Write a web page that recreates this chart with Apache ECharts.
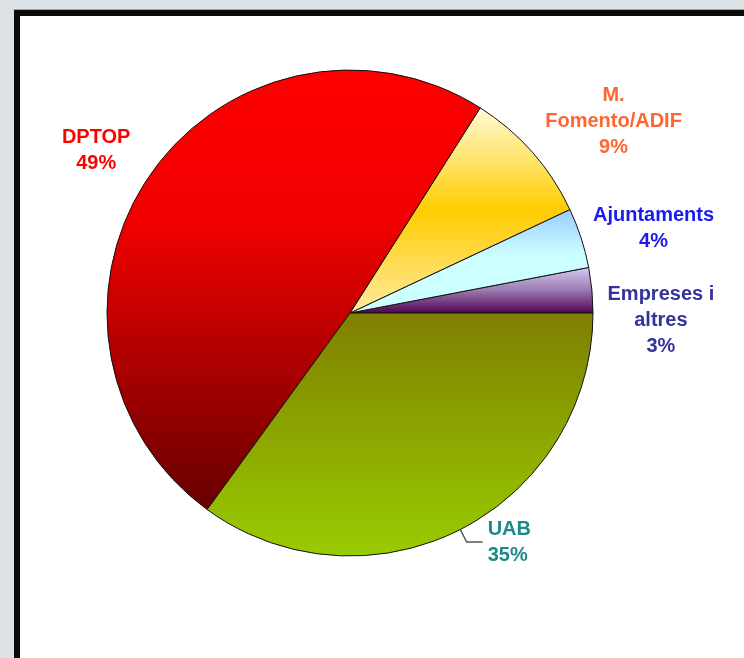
<!DOCTYPE html>
<html>
<head>
<meta charset="utf-8">
<script src="https://cdn.jsdelivr.net/npm/echarts@6/dist/echarts.min.js"></script>
<style>
  html, body { margin: 0; padding: 0; }
  body { width: 744px; height: 658px; background: #dde2e6; position: relative; overflow: hidden; }
  .frame { position: absolute; left: 14px; top: 10px; width: 760px; height: 680px; background: #fff; border: 6px solid #0a0a0a; box-shadow: 0 -1px 0 #9aa0a4; }
  #chart { position: absolute; left: 0; top: 0; width: 744px; height: 658px; }
</style>
</head>
<body>
<div class="frame"></div>
<div id="chart"></div>
<script>
// drawn counter-clockwise from 3 o'clock
const names = ['Empreses i\naltres', 'Ajuntaments', 'M.\nFomento/ADIF', 'DPTOP', 'UAB']
const shares = [3, 4, 9, 49, 35]

const textColors = ['#333399', '#1a1aee', '#ff6633', '#ff0000', '#1a8a8a']
const fills = [
  [['0', '#d4ccf8'], ['0.5', '#9a7ab0'], ['1', '#500050']],
  [['0', '#99ccff'], ['0.45', '#ccffff'], ['1', '#ccffff']],
  [['0', '#fffbd8'], ['0.5', '#ffcc00'], ['1', '#ffeaa0']],
  [['0', '#ff0000'], ['0.35', '#f00000'], ['1', '#660000']],
  [['0', '#7f7f00'], ['1', '#99cc00']],
]
// label line length / length2 per slice
const lineLen = [5, 32, 47, 47, 14]
const lineLen2 = [59, 37, 41, 9, 16]

const chart = echarts.init(document.getElementById('chart'), null, { renderer: 'canvas' })

function gradient(stops) {
  return new echarts.graphic.LinearGradient(0, 0, 0, 1,
    stops.map(s => ({ offset: Number(s[0]), color: s[1] })))
}

const data = names.map((name, i) => ({
  name,
  value: shares[i],
  itemStyle: { color: gradient(fills[i]) },
  label: { color: textColors[i] },
  labelLine: {
    show: i === 4,
    length: lineLen[i],
    length2: lineLen2[i],
  },
}))

chart.setOption({
  backgroundColor: 'transparent',
  animation: false,
  series: [{
    type: 'pie',
    center: [350, 313],
    radius: 243,
    startAngle: 0,
    clockwise: false,
    avoidLabelOverlap: false,
    data,
    itemStyle: { borderColor: '#111', borderWidth: 1 },
    label: {
      show: true,
      position: 'outside',
      formatter: '{b}\n{c}%',
      fontFamily: 'Liberation Sans, Arial, sans-serif',
      fontWeight: 'bold',
      fontSize: 20,
      lineHeight: 26,
      distanceToLabelLine: 5,
    },
    labelLine: {
      smooth: false,
      lineStyle: { color: '#555', width: 1.5 },
    },
    labelLayout(params) {
      if (params.dataIndex === 4) return {}
      // the small slice's label sits level with the pie's centre line
      if (params.dataIndex === 0) return { align: 'center', dy: 31 }
      return { align: 'center' }
    },
    emphasis: { disabled: true },
  }],
})
</script>
</body>
</html>
